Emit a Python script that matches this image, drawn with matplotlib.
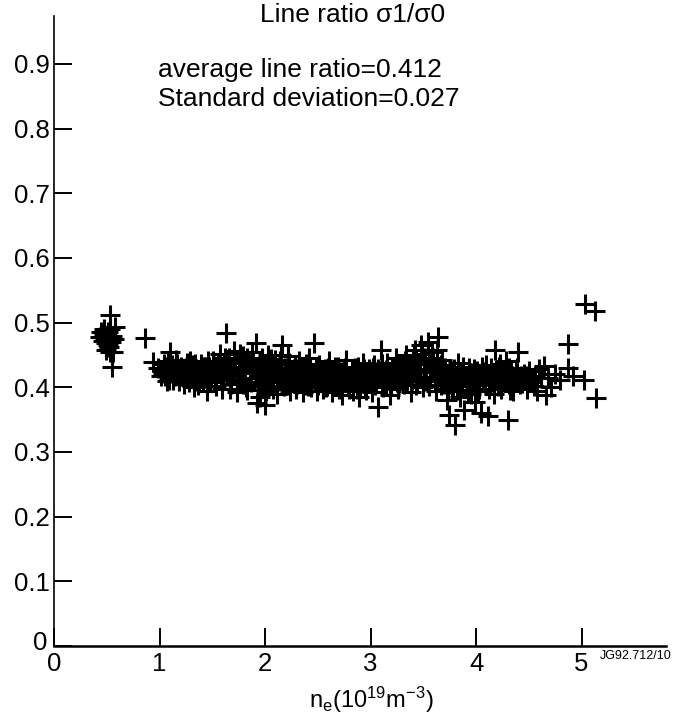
import matplotlib
matplotlib.use("Agg")
import matplotlib.pyplot as plt
import matplotlib.transforms as mtransforms

plt.rcParams["font.family"] = ["Liberation Sans", "DejaVu Sans"]
plt.rcParams["mathtext.default"] = "regular"

# --- data (n_e in 1e19 m^-3, line ratio) ---
# low density group near n_e ~ 0.5
blob_ne = [0.44, 0.46, 0.47, 0.48, 0.49, 0.50, 0.50, 0.51, 0.52, 0.52,
           0.53, 0.53, 0.54, 0.55, 0.56, 0.58, 0.49, 0.47, 0.55, 0.45,
           0.51, 0.57, 0.53, 0.86, 0.94]
blob_ratio = [0.478, 0.472, 0.482, 0.476, 0.468, 0.480, 0.472, 0.486, 0.474, 0.462,
              0.490, 0.512, 0.470, 0.431, 0.455, 0.493, 0.458, 0.490, 0.480, 0.485,
              0.465, 0.475, 0.455, 0.476, 0.439]

# main band, n_e 1.0 - 2.3
band1_ne = [0.99, 1.02, 1.05, 1.07, 1.08, 1.10, 1.11, 1.13, 1.15, 1.17,
            1.19, 1.21, 1.23, 1.25, 1.27, 1.29, 1.31, 1.33, 1.35, 1.37,
            1.39, 1.41, 1.43, 1.45, 1.47, 1.49, 1.51, 1.53, 1.55, 1.57,
            1.59, 1.61, 1.63, 1.64, 1.66, 1.68, 1.69, 1.71, 1.73, 1.75,
            1.77, 1.79, 1.80, 1.82, 1.84, 1.86, 1.88, 1.90, 1.91, 1.92,
            1.93, 1.95, 1.97, 1.99, 2.00, 2.01, 2.03, 2.05, 2.07, 2.09,
            2.11, 2.13, 2.15, 2.16, 2.18, 2.20, 2.22, 2.24, 2.26, 2.28]
band1_ratio = [0.430, 0.425, 0.418, 0.432, 0.440, 0.454, 0.422, 0.412, 0.428, 0.436,
               0.418, 0.426, 0.405, 0.430, 0.415, 0.440, 0.420, 0.400, 0.428, 0.412,
               0.436, 0.408, 0.425, 0.395, 0.432, 0.418, 0.440, 0.410, 0.426, 0.452,
               0.398, 0.434, 0.484, 0.418, 0.445, 0.405, 0.428, 0.456, 0.392, 0.438,
               0.412, 0.448, 0.425, 0.400, 0.440, 0.415, 0.455, 0.432, 0.468, 0.376,
               0.405, 0.385, 0.445, 0.420, 0.372, 0.395, 0.450, 0.428, 0.408, 0.442,
               0.390, 0.420, 0.436, 0.465, 0.402, 0.428, 0.448, 0.395, 0.415, 0.432]

# main band, n_e 2.3 - 3.3
band2_ne = [2.30, 2.32, 2.34, 2.36, 2.38, 2.40, 2.42, 2.44, 2.46, 2.47,
            2.49, 2.51, 2.53, 2.55, 2.57, 2.59, 2.61, 2.63, 2.65, 2.67,
            2.69, 2.71, 2.73, 2.75, 2.77, 2.79, 2.81, 2.83, 2.85, 2.87,
            2.89, 2.91, 2.93, 2.95, 2.97, 2.99, 3.01, 3.03, 3.05, 3.07,
            3.08, 3.10, 3.12, 3.14, 3.16, 3.18, 3.20, 3.22, 3.24, 3.26, 3.28]
band2_ratio = [0.405, 0.440, 0.418, 0.392, 0.428, 0.410, 0.445, 0.400, 0.468, 0.422,
               0.395, 0.435, 0.412, 0.398, 0.428, 0.415, 0.440, 0.392, 0.420, 0.405,
               0.432, 0.412, 0.388, 0.425, 0.442, 0.402, 0.418, 0.395, 0.430, 0.410,
               0.385, 0.422, 0.438, 0.400, 0.415, 0.428, 0.392, 0.435, 0.410, 0.369,
               0.425, 0.457, 0.400, 0.418, 0.438, 0.388, 0.428, 0.412, 0.445, 0.398, 0.420]

# main band, n_e 3.3 - 4.4
band3_ne = [3.30, 3.32, 3.34, 3.36, 3.38, 3.40, 3.42, 3.44, 3.46, 3.48,
            3.50, 3.52, 3.54, 3.56, 3.58, 3.60, 3.62, 3.64, 3.66, 3.68,
            3.70, 3.72, 3.74, 3.76, 3.78, 3.80, 3.81, 3.83, 3.85, 3.87,
            3.89, 3.91, 3.93, 3.95, 3.97, 3.99, 4.01, 4.03, 4.05, 4.07,
            4.09, 4.11, 4.13, 4.15, 4.17, 4.18, 4.20, 4.22, 4.24, 4.26,
            4.28, 4.30, 4.31, 4.33, 4.35, 4.37, 4.39, 4.40]
band3_ratio = [0.435, 0.405, 0.450, 0.418, 0.392, 0.440, 0.458, 0.410, 0.428, 0.465,
               0.400, 0.445, 0.470, 0.415, 0.455, 0.432, 0.395, 0.478, 0.420, 0.442,
               0.405, 0.380, 0.357, 0.425, 0.395, 0.342, 0.412, 0.438, 0.385, 0.420,
               0.365, 0.402, 0.430, 0.390, 0.415, 0.378, 0.425, 0.398, 0.360, 0.412,
               0.435, 0.355, 0.405, 0.422, 0.390, 0.457, 0.415, 0.432, 0.398, 0.418,
               0.440, 0.350, 0.405, 0.425, 0.395, 0.412, 0.430, 0.455]

# dense core of the band
core_ne = [1.01, 1.04, 1.06, 1.09, 1.12, 1.14, 1.16, 1.18, 1.20, 1.22,
           1.24, 1.26, 1.28, 1.30, 1.32, 1.34, 1.36, 1.38, 1.40, 1.42,
           1.44, 1.46, 1.48, 1.50, 1.52, 1.54, 1.56, 1.58, 1.60, 1.62,
           1.65, 1.67, 1.70, 1.72, 1.74, 1.76, 1.78, 1.81, 1.83, 1.85,
           1.87, 1.89, 1.94, 1.96, 1.98, 2.02, 2.04, 2.06, 2.08, 2.10,
           2.12, 2.14, 2.17, 2.19, 2.21, 2.23, 2.25, 2.27, 2.29, 2.31,
           2.33, 2.35, 2.37, 2.39, 2.41, 2.43, 2.45, 2.48, 2.50, 2.52,
           2.54, 2.56, 2.58, 2.60, 2.62, 2.64, 2.66, 2.68, 2.70, 2.72,
           2.74, 2.76, 2.78, 2.80, 2.82, 2.84, 2.86, 2.88, 2.90, 2.92,
           2.94, 2.96, 2.98, 3.00, 3.02, 3.04, 3.06, 3.09, 3.11, 3.13,
           3.15, 3.17, 3.19, 3.21, 3.23, 3.25, 3.27, 3.29, 3.31, 3.33,
           3.35, 3.37, 3.39, 3.41, 3.43, 3.45, 3.47, 3.49, 3.51, 3.53,
           3.55, 3.57, 3.59, 3.61, 3.63, 3.65, 3.67, 3.69, 3.71, 3.73,
           3.75, 3.77, 3.79, 3.82, 3.84, 3.86, 3.88, 3.90, 3.92, 3.94,
           3.96, 3.98, 4.00, 4.02, 4.04, 4.06, 4.08, 4.10, 4.12, 4.14,
           4.16, 4.19, 4.21, 4.23, 4.25, 4.27, 4.29, 4.32, 4.34, 4.36,
           4.38, 4.41, 4.44, 4.47]
core_ratio = [0.418, 0.436, 0.428, 0.412, 0.434, 0.420, 0.442, 0.410, 0.432, 0.416,
              0.424, 0.438, 0.408, 0.428, 0.415, 0.436, 0.404, 0.422, 0.426, 0.432,
              0.414, 0.440, 0.408, 0.425, 0.433, 0.402, 0.438, 0.418, 0.428, 0.445,
              0.432, 0.398, 0.420, 0.440, 0.408, 0.452, 0.428, 0.414, 0.396, 0.436,
              0.424, 0.440, 0.418, 0.432, 0.402, 0.436, 0.414, 0.444, 0.398, 0.425,
              0.410, 0.440, 0.418, 0.430, 0.404, 0.438, 0.420, 0.428, 0.398, 0.424,
              0.430, 0.408, 0.420, 0.436, 0.402, 0.426, 0.414, 0.432, 0.404, 0.420,
              0.426, 0.412, 0.400, 0.430, 0.418, 0.406, 0.432, 0.414, 0.398, 0.424,
              0.408, 0.430, 0.416, 0.398, 0.426, 0.410, 0.420, 0.432, 0.402, 0.414,
              0.428, 0.396, 0.420, 0.412, 0.430, 0.404, 0.424, 0.414, 0.436, 0.406,
              0.426, 0.412, 0.402, 0.432, 0.418, 0.408, 0.436, 0.414, 0.424, 0.440,
              0.412, 0.432, 0.420, 0.448, 0.404, 0.438, 0.416, 0.452, 0.426, 0.410,
              0.440, 0.424, 0.436, 0.410, 0.458, 0.428, 0.404, 0.418, 0.430, 0.398,
              0.414, 0.402, 0.428, 0.396, 0.420, 0.408, 0.432, 0.414, 0.392, 0.422,
              0.404, 0.428, 0.412, 0.394, 0.420, 0.432, 0.406, 0.418, 0.398, 0.430,
              0.412, 0.424, 0.402, 0.436, 0.416, 0.408, 0.428, 0.396, 0.418, 0.410,
              0.424, 0.414, 0.406, 0.418]

# second layer of the core
core2_ne = [1.03, 1.07, 1.11, 1.15, 1.19, 1.23, 1.27, 1.31, 1.35, 1.39,
            1.43, 1.47, 1.51, 1.55, 1.59, 1.63, 1.67, 1.71, 1.75, 1.79,
            1.83, 1.87, 1.91, 1.95, 1.99, 2.03, 2.07, 2.11, 2.15, 2.19,
            2.23, 2.27, 2.31, 2.35, 2.39, 2.43, 2.47, 2.51, 2.55, 2.59,
            2.63, 2.67, 2.71, 2.75, 2.79, 2.83, 2.87, 2.91, 2.95, 2.99,
            3.03, 3.07, 3.11, 3.15, 3.19, 3.23, 3.27, 3.31, 3.35, 3.39,
            3.43, 3.47, 3.51, 3.55, 3.59, 3.63, 3.67, 3.71, 3.75, 3.79,
            3.83, 3.87, 3.91, 3.95, 3.99, 4.03, 4.07, 4.11, 4.15, 4.19,
            4.23, 4.27, 4.31, 4.35, 4.39, 4.43, 4.46, 4.52, 4.55, 4.62]
core2_ratio = [0.422, 0.410, 0.430, 0.418, 0.428, 0.414, 0.426, 0.434, 0.410, 0.420,
               0.432, 0.412, 0.424, 0.438, 0.416, 0.442, 0.412, 0.430, 0.422, 0.405,
               0.446, 0.408, 0.425, 0.440, 0.410, 0.420, 0.436, 0.418, 0.450, 0.414,
               0.422, 0.406, 0.428, 0.414, 0.404, 0.432, 0.410, 0.420, 0.415, 0.402,
               0.426, 0.414, 0.422, 0.408, 0.418, 0.428, 0.398, 0.412, 0.424, 0.406,
               0.418, 0.428, 0.408, 0.402, 0.416, 0.430, 0.406, 0.422, 0.428, 0.412,
               0.444, 0.424, 0.436, 0.402, 0.446, 0.410, 0.434, 0.420, 0.405, 0.418,
               0.425, 0.408, 0.416, 0.422, 0.404, 0.414, 0.424, 0.418, 0.408, 0.426,
               0.414, 0.420, 0.430, 0.416, 0.408, 0.418, 0.412, 0.408, 0.402, 0.415]

# sparse tail at high density
tail_ne = [4.42, 4.45, 4.48, 4.50, 4.53, 4.56, 4.58, 4.60, 4.64, 4.66,
           4.68, 4.71, 4.75, 4.80, 4.87, 4.87, 4.92, 5.02, 5.03, 5.13, 5.14]
tail_ratio = [0.405, 0.420, 0.398, 0.425, 0.410, 0.418, 0.395, 0.428, 0.433, 0.388,
              0.415, 0.400, 0.420, 0.412, 0.467, 0.430, 0.418, 0.411, 0.529, 0.518, 0.383]

ne = blob_ne + band1_ne + band2_ne + band3_ne + core_ne + core2_ne + tail_ne
ratio = blob_ratio + band1_ratio + band2_ratio + band3_ratio + core_ratio + core2_ratio + tail_ratio

x_ticks = [0, 1, 2, 3, 4, 5]
y_ticks = [0, 0.1, 0.2, 0.3, 0.4, 0.5, 0.6, 0.7, 0.8, 0.9]
y_tick_labels = ["0", "0.1", "0.2", "0.3", "0.4", "0.5", "0.6", "0.7", "0.8", "0.9"]

fig = plt.figure(figsize=(6.78, 7.28), dpi=100)
ax = fig.add_axes([54 / 678, 82 / 728, 612 / 678, 630 / 728])

ax.plot(ne, ratio, linestyle="none", marker="+", markersize=14.5,
        markeredgewidth=2.2, color="black")

ax.set_xlim(0, 5.8)
ax.set_ylim(0, 0.974)
ax.spines["top"].set_visible(False)
ax.spines["right"].set_visible(False)
ax.spines["left"].set_linewidth(1.2)
ax.spines["bottom"].set_linewidth(1.8)

ax.set_xticks(x_ticks)
ax.set_xticklabels([str(t) for t in x_ticks])
ax.set_yticks(y_ticks)
ax.set_yticklabels(y_tick_labels)
ax.tick_params(axis="both", direction="in", length=13, width=1.4, labelsize=18.5)
ax.tick_params(axis="y", pad=3)
ax.tick_params(axis="x", pad=4)

# the "0" on the y axis sits a little above its tick, clear of the x "0"
zero_lab = ax.get_yticklabels()[0]
zero_lab.set_transform(zero_lab.get_transform()
                       + mtransforms.ScaledTranslation(-0.02, 0.05, fig.dpi_scale_trans))

fig.text(353 / 678, 1 - 15 / 728, "Line ratio σ1/σ0", ha="center", va="center", fontsize=19)
fig.text(158 / 678, 1 - 70 / 728, "average line ratio=0.412", ha="left", va="center", fontsize=19)
fig.text(158 / 678, 1 - 99 / 728, "Standard deviation=0.027", ha="left", va="center", fontsize=19)
fig.text(371 / 678, 1 - 700 / 728, r"n$_e$(10$^{19}$m$^{-3}$)", ha="center", va="center", fontsize=17)
fig.text(600 / 678, 1 - 650 / 728, "JG92.712/10", ha="left", va="top", fontsize=9)

fig.savefig("out.png", dpi=100)
